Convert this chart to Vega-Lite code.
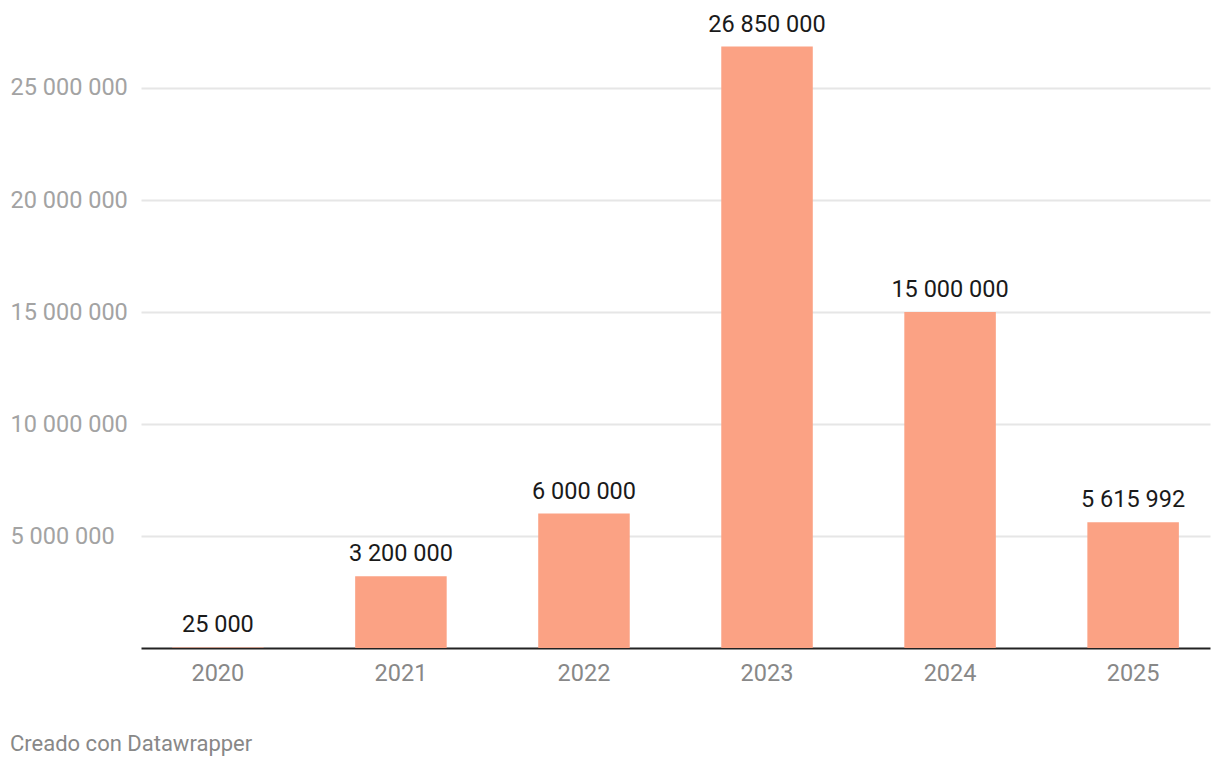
{
  "$schema": "https://vega.github.io/schema/vega-lite/v6.json",
  "autosize": "none",
  "width": 1069,
  "height": 648,
  "padding": {"left": 141, "top": 0, "right": 10, "bottom": 122},
  "background": "white",
  "config": {
    "font": "Roboto",
    "view": {"stroke": null},
    "locale": {"number": {"decimal": ",", "thousands": " ", "grouping": [3], "currency": ["", " €"]}}
  },
  "title": {
    "text": "Creado con Datawrapper",
    "orient": "bottom",
    "anchor": "start",
    "offset": 49,
    "font": "Roboto",
    "fontSize": 22,
    "fontWeight": "normal",
    "color": "#888888"
  },
  "data": {
    "values": [
      {"year": "2020", "value": 25000},
      {"year": "2021", "value": 3200000},
      {"year": "2022", "value": 6000000},
      {"year": "2023", "value": 26850000},
      {"year": "2024", "value": 15000000},
      {"year": "2025", "value": 5615992}
    ]
  },
  "encoding": {
    "x": {
      "field": "year",
      "type": "ordinal",
      "scale": {"paddingInner": 0.5, "paddingOuter": 0.17},
      "axis": {
        "title": null,
        "labelAngle": 0,
        "ticks": false,
        "domainColor": "#222222",
        "domainWidth": 2,
        "labelFontSize": 23.5,
        "labelColor": "#888888",
        "labelPadding": 13,
        "grid": false
      }
    },
    "y": {
      "field": "value",
      "type": "quantitative",
      "scale": {"domain": [0, 28928571], "nice": false, "zero": true},
      "axis": {
        "title": null,
        "values": [5000000, 10000000, 15000000, 20000000, 25000000],
        "format": ",d",
        "domain": false,
        "ticks": false,
        "labelAlign": "left",
        "labelPadding": 131,
        "labelFontSize": 23.5,
        "labelColor": "#a3a3a3",
        "gridColor": "#e6e6e6",
        "gridWidth": 2
      }
    }
  },
  "layer": [
    {"mark": {"type": "bar", "color": "#fba284"}},
    {
      "mark": {"type": "text", "baseline": "alphabetic", "dy": -15, "fontSize": 23.5, "color": "#1a1a1a"},
      "encoding": {"text": {"field": "value", "type": "quantitative", "format": ",d"}}
    }
  ]
}
